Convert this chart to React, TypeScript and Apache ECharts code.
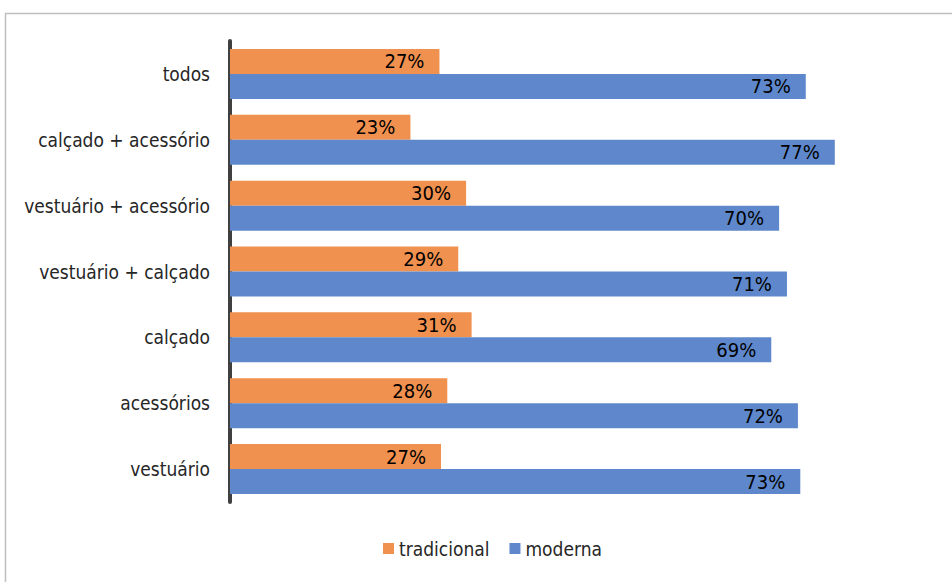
import React, { useEffect, useRef } from "react";
import * as echarts from "echarts";

const categories = [
  "todos",
  "calçado + acessório",
  "vestuário + acessório",
  "vestuário + calçado",
  "calçado",
  "acessórios",
  "vestuário",
];
const tradicional = [26.7, 23.0, 30.1, 29.1, 30.8, 27.7, 26.9];
const moderna = [73.4, 77.1, 70.0, 71.0, 69.0, 72.4, 72.7];
const seriesNames = ["tradicional", "moderna"];

const FONT = "'Liberation Sans Narrow', 'DejaVu Sans Condensed', 'Liberation Sans', sans-serif";

export default function App() {
  const ref = useRef<HTMLDivElement>(null);
  useEffect(() => {
    document.body.style.margin = "0";
    const chart = echarts.init(ref.current!, null, { renderer: "svg" });
    const label = {
      show: true,
      position: "insideRight",
      distance: 15,
      color: "#000",
      fontSize: 20,
      fontFamily: FONT,
      formatter: (p: any) => Math.round(p.value) + "%",
    };
    chart.setOption({
      animation: false,
      backgroundColor: "#fff",
      graphic: [
        {
          type: "rect",
          shape: { x: 5.5, y: 13.5, width: 1000, height: 1000 },
          style: { fill: "none", stroke: "#BFBFBF", lineWidth: 1.5 },
          silent: true,
        },
      ],
      grid: { left: 230, right: 16, top: 41, bottom: 80, containLabel: false },
      legend: {
        data: seriesNames,
        bottom: 19,
        left: 378,
        itemWidth: 11,
        itemHeight: 11,
        itemGap: 20,
        icon: "rect",
        textStyle: { fontSize: 19, fontFamily: FONT, color: "#262626" },
      },
      xAxis: {
        type: "value",
        min: 0,
        max: 90,
        show: false,
      },
      yAxis: {
        type: "category",
        data: categories,
        inverse: true,
        axisLine: { show: true, lineStyle: { color: "#404040", width: 4 } },
        axisTick: { show: false },
        axisLabel: { fontSize: 19, fontFamily: FONT, color: "#262626", margin: 20 },
      },
      series: [
        {
          name: seriesNames[0],
          type: "bar",
          data: tradicional,
          barWidth: 25,
          barGap: "0%",
          itemStyle: { color: "#F0914F" },
          label,
        },
        {
          name: seriesNames[1],
          type: "bar",
          data: moderna,
          barWidth: 25,
          barGap: "0%",
          itemStyle: { color: "#5E88CB" },
          label,
        },
      ],
    });
    return () => chart.dispose();
  }, []);
  return <div ref={ref} style={{ width: 952, height: 582 }} />;
}
